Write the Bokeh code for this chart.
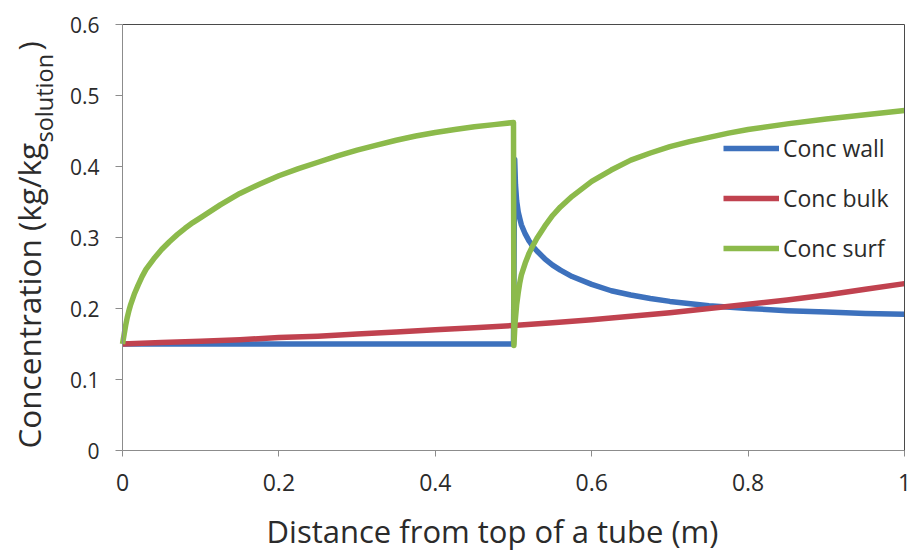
from math import pi

from bokeh.embed import file_html
from bokeh.models import (ColumnDataSource, FixedTicker, Label, Legend,
                          LegendItem, LinearAxis, Range1d)
from bokeh.plotting import figure
from bokeh.resources import INLINE

# Distance from the top of the tube (m) and concentrations (kg/kg solution)
wall_x = [0.0, 0.1, 0.2, 0.3, 0.4, 0.5, 0.5015, 0.5025, 0.504, 0.506, 0.508,
          0.51, 0.515, 0.52, 0.525, 0.53, 0.54, 0.55, 0.56, 0.575, 0.6, 0.625,
          0.65, 0.675, 0.7, 0.75, 0.8, 0.85, 0.9, 0.95, 1.0]
wall_y = [0.150, 0.150, 0.150, 0.150, 0.150, 0.150, 0.410, 0.375, 0.352,
          0.336, 0.327, 0.318, 0.305, 0.295, 0.287, 0.281, 0.270, 0.261,
          0.254, 0.245, 0.234, 0.225, 0.219, 0.214, 0.210, 0.204, 0.200,
          0.197, 0.195, 0.193, 0.192]

bulk_x = [0.0, 0.05, 0.1, 0.15, 0.2, 0.25, 0.3, 0.35, 0.4, 0.45, 0.5, 0.55,
          0.6, 0.65, 0.7, 0.75, 0.8, 0.85, 0.9, 0.95, 1.0]
bulk_y = [0.150, 0.152, 0.154, 0.156, 0.159, 0.161, 0.164, 0.167, 0.170,
          0.173, 0.176, 0.180, 0.184, 0.189, 0.194, 0.200, 0.206, 0.212,
          0.219, 0.227, 0.235]

surf_x = [0.0, 0.002, 0.004, 0.006, 0.008, 0.01, 0.015, 0.02, 0.025, 0.03,
          0.04, 0.05, 0.06, 0.07, 0.08, 0.09, 0.1, 0.125, 0.15, 0.175, 0.2,
          0.225, 0.25, 0.275, 0.3, 0.325, 0.35, 0.375, 0.4, 0.425, 0.45,
          0.475, 0.5,
          0.5005, 0.502, 0.504, 0.506, 0.508, 0.51, 0.515, 0.52, 0.525, 0.53,
          0.54, 0.55, 0.56, 0.575, 0.6, 0.625, 0.65, 0.675, 0.7, 0.725, 0.75,
          0.775, 0.8, 0.85, 0.9, 0.95, 1.0]
surf_y = [0.150, 0.163, 0.176, 0.187, 0.196, 0.204, 0.220, 0.233, 0.245,
          0.255, 0.270, 0.283, 0.294, 0.304, 0.313, 0.321, 0.328, 0.346,
          0.362, 0.375, 0.387, 0.397, 0.406, 0.415, 0.423, 0.430, 0.437,
          0.443, 0.448, 0.452, 0.456, 0.459, 0.462,
          0.148, 0.180, 0.205, 0.222, 0.236, 0.247, 0.264, 0.278, 0.289,
          0.299, 0.316, 0.331, 0.343, 0.358, 0.379, 0.395, 0.409, 0.419,
          0.428, 0.435, 0.441, 0.447, 0.452, 0.460, 0.467, 0.473, 0.479]

series_names = ["Conc wall", "Conc bulk", "Conc surf"]
series_colors = ["#3d71bd", "#c0424f", "#8cba4b"]

x_min, x_max = 0, 1
y_min, y_max = 0, 0.6
x_ticks = [0, 0.2, 0.4, 0.6, 0.8, 1]
x_tick_labels = ["0", "0.2", "0.4", "0.6", "0.8", "1"]
y_ticks = [0, 0.1, 0.2, 0.3, 0.4, 0.5, 0.6]
y_tick_labels = ["0", "0.1", "0.2", "0.3", "0.4", "0.5", "0.6"]

TEXT = "#2b2b2b"
W, H = 913, 554
# pixel margins around the plotting box; the frame covers the whole canvas
# so that the axis titles can sit anywhere on it
M_LEFT, M_RIGHT, M_TOP, M_BOTTOM = 122, 9, 24, 104
sx = (x_max - x_min) / (W - M_LEFT - M_RIGHT)
sy = (y_max - y_min) / (H - M_TOP - M_BOTTOM)

p = figure(width=W, height=H, output_backend="svg", toolbar_location=None,
           x_range=Range1d(x_min - M_LEFT * sx, x_max + M_RIGHT * sx),
           y_range=Range1d(y_min - M_BOTTOM * sy, y_max + M_TOP * sy),
           min_border=0, x_axis_location="below", y_axis_location="left")
p.min_border_left = p.min_border_right = p.min_border_top = p.min_border_bottom = 0
p.background_fill_color = "white"
p.border_fill_color = "white"
p.outline_line_color = None
p.xgrid.visible = False
p.ygrid.visible = False

for ax in (p.xaxis, p.yaxis):
    ax.axis_line_color = "#8c8c8c"
    ax.major_tick_line_color = "#8c8c8c"
    ax.minor_tick_line_color = None
    ax.major_tick_in = 0
    ax.major_label_text_color = TEXT
    ax.major_label_text_font = "Open Sans"

p.xaxis.fixed_location = y_min
p.xaxis.bounds = (x_min, x_max)
p.xaxis.ticker = FixedTicker(ticks=x_ticks)
p.xaxis.major_label_overrides = dict(zip(x_ticks, x_tick_labels))
p.xaxis.major_tick_out = 6
p.xaxis.major_label_standoff = 17
p.xaxis.major_label_text_font_size = "23px"

p.yaxis.fixed_location = x_min
p.yaxis.bounds = (y_min, y_max)
p.yaxis.ticker = FixedTicker(ticks=y_ticks)
p.yaxis.major_label_overrides = dict(zip(y_ticks, y_tick_labels))
p.yaxis.major_tick_out = 7
p.yaxis.major_label_standoff = 16
p.yaxis.major_label_text_font_size = "21px"

# dark top and right edges of the plotting box
for loc, place, bounds in ((y_max, "above", (x_min, x_max)),
                           (x_max, "right", (y_min, y_max))):
    edge = LinearAxis(fixed_location=loc, bounds=bounds,
                      ticker=FixedTicker(ticks=[]),
                      axis_line_color="#4a4a4a", axis_line_width=1,
                      major_tick_line_color=None, minor_tick_line_color=None,
                      major_label_text_font_size="0px")
    p.add_layout(edge, place)

sources = [
    ColumnDataSource(dict(x=wall_x, y=wall_y)),
    ColumnDataSource(dict(x=bulk_x, y=bulk_y)),
    ColumnDataSource(dict(x=surf_x, y=surf_y)),
]
renderers = []
for src, color in zip(sources, series_colors):
    r = p.line("x", "y", source=src, line_color=color, line_width=5.5,
               line_join="round")
    renderers.append(r)

legend = Legend(
    items=[LegendItem(label=n, renderers=[r]) for n, r in zip(series_names, renderers)],
    location=(723, 290), orientation="vertical",
    border_line_color=None, background_fill_alpha=0,
    padding=0, margin=0, spacing=18,
    glyph_width=56, glyph_height=20, label_height=20, label_standoff=4,
    label_text_font="Open Sans", label_text_font_size="23px",
    label_text_color=TEXT,
)
p.add_layout(legend, "center")

# Axis titles (screen offsets from the bottom-left corner); the vertical
# one carries a subscripted unit
titles = [
    dict(text="Concentration (kg/kg", x=28, y=H - 448, size="31.5px", angle=pi / 2, align="left"),
    dict(text="solution", x=43, y=H - 142, size="23.5px", angle=pi / 2, align="left"),
    dict(text=")", x=28, y=H - 50, size="31.5px", angle=pi / 2, align="left"),
    dict(text="Distance from top of a tube (m)", x=492, y=H - 530, size="31px", angle=0, align="center"),
]
for t in titles:
    p.add_layout(Label(x=t["x"], y=t["y"], x_units="screen", y_units="screen",
                       text=t["text"], angle=t["angle"], text_font="Open Sans",
                       text_font_size=t["size"], text_color=TEXT,
                       text_align=t["align"], text_baseline="middle"))

open("out.html", "w").write(file_html(p, INLINE))
